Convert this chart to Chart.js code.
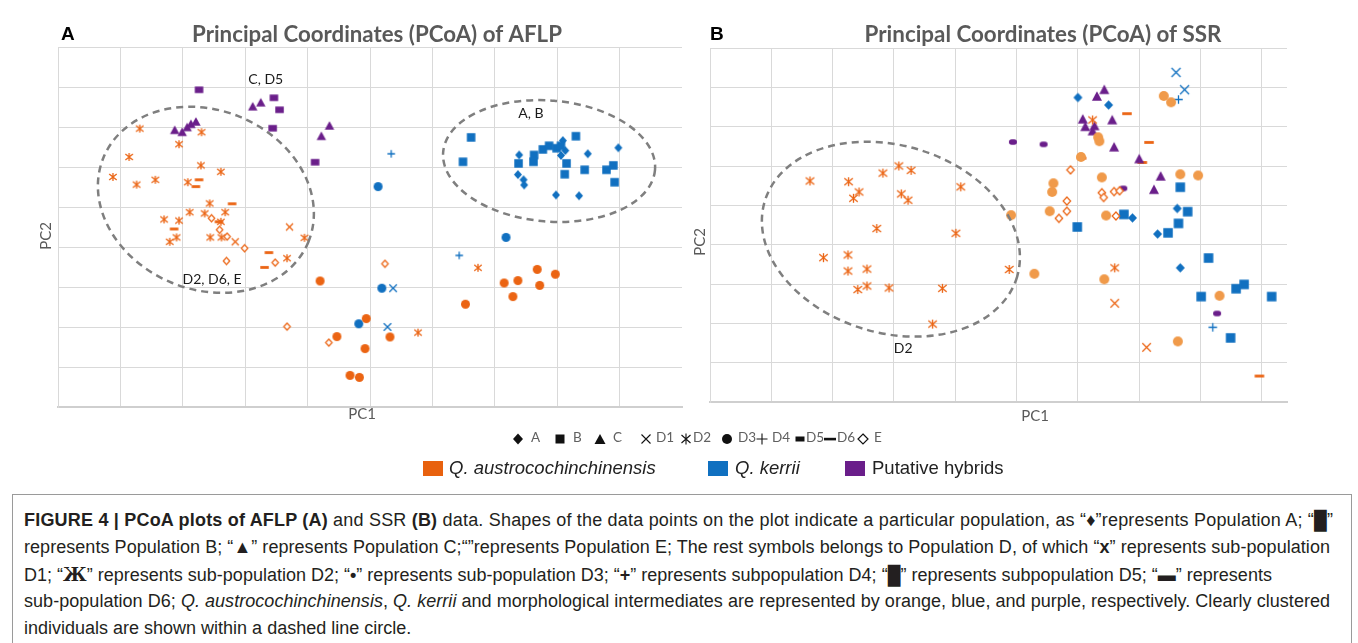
<!DOCTYPE html>
<html><head><meta charset="utf-8">
<script src="https://cdn.jsdelivr.net/npm/chart.js@4.4.1/dist/chart.umd.min.js"></script>
<style>
html,body{margin:0;padding:0;background:#fff;}
#page{position:relative;width:1358px;height:643px;overflow:hidden;font-family:"Liberation Sans",Arial,sans-serif;background:#fff;}
#ca{position:absolute;left:0;top:0;}
#cb{position:absolute;left:690px;top:0;}
.sym{position:absolute;width:12px;height:12px;top:431px;}
.lt{position:absolute;top:428.5px;font:13.5px Lato,sans-serif;color:#606060;line-height:17px;white-space:nowrap;}
.sq{position:absolute;top:461px;width:20px;height:15px;}
.lt2{position:absolute;top:457px;font-size:18.5px;line-height:22px;color:#222;white-space:nowrap;}
#cap{position:absolute;left:12px;top:494px;width:1338px;height:170px;border:1px solid #9a9a9a;}
.cl{position:absolute;left:11px;white-space:nowrap;font-size:18px;line-height:27px;color:#231f20;}
.zh{font-family:"DejaVu Serif",serif;font-weight:bold;}
</style></head>
<body><div id="page">
<canvas id="ca" width="690" height="430"></canvas>
<canvas id="cb" width="668" height="430"></canvas>
<div id="leg1"></div>
<div class="sq" style="left:423px;background:#E8610E"></div><div class="lt2" style="left:449px"><i>Q. austrocochinchinensis</i></div>
<div class="sq" style="left:708px;background:#1070C0"></div><div class="lt2" style="left:735px"><i>Q. kerrii</i></div>
<div class="sq" style="left:845px;background:#6A1E8A"></div><div class="lt2" style="left:872px">Putative hybrids</div>
<div id="cap">
<div class="cl" data-w="1309" style="top:12px"><b>FIGURE 4 | PCoA plots of AFLP (A)</b> and SSR <b>(B)</b> data. Shapes of the data points on the plot indicate a particular population, as “♦”represents Population A; “<b>█</b>”</div>
<div class="cl" data-w="1306" style="top:39px">represents Population B; “<b>▲</b>” represents Population C;“”represents Population E; The rest symbols belongs to Population D, of which “<b>x</b>” represents sub-population</div>
<div class="cl" data-w="1248" style="top:66px">D1; “<span class="zh">Ж</span>” represents sub-population D2; “<b>•</b>” represents sub-population D3; “<b>+</b>” represents subpopulation D4; “<b>█</b>” represents subpopulation D5; “<b>▬</b>” represents</div>
<div class="cl" data-w="1306" style="top:93px">sub-population D6; <i>Q. austrocochinchinensis</i>, <i>Q. kerrii</i> and morphological intermediates are represented by orange, blue, and purple, respectively. Clearly clustered</div>
<div class="cl" style="top:120px">individuals are shown within a dashed line circle.</div>
</div>
</div>
<script>
// ---------------- DATA (PC1, PC2 scores, arbitrary units) ----------------
// AFLP panel
const aflpA_kerrii = [[2.39,2.30],[3.09,2.66],[3.13,2.41],[3.06,2.29],[3.49,2.33],[3.98,2.48],[2.37,1.81],[2.46,1.68],[2.47,1.55],[2.98,1.30],[3.35,1.28]];
const aflpB_kerrii = [[1.62,2.74],[1.49,2.13],[2.38,2.09],[2.62,2.13],[2.63,2.30],[2.77,2.44],[2.87,2.53],[2.99,2.47],[3.06,2.53],[3.15,2.09],[3.12,1.82],[3.30,2.77],[3.44,1.93],[3.79,1.93],[3.90,2.04],[3.92,1.62]];
const aflpC_hybrid = [[-1.88,3.52],[-1.75,3.62],[-3.13,2.93],[-3.01,2.88],[-2.93,3.00],[-2.87,3.08],[-2.79,3.14],[-0.78,2.78],[-0.65,3.04]];
const aflpD1_austro = [[-2.16,0.13],[-1.29,0.50]];
const aflpD1_kerrii = [[0.37,-1.03],[0.28,-2.00]];
const aflpD2_austro = [[-3.69,2.96],[-2.70,2.87],[-3.06,2.57],[-3.86,2.25],[-2.71,2.04],[-2.39,1.88],[-4.12,1.75],[-3.74,1.56],[-3.44,1.68],[-2.92,1.62],[-2.57,1.09],[-2.32,0.87],[-2.89,0.87],[-2.65,0.84],[-3.30,0.69],[-3.06,0.66],[-3.21,0.13],[-3.10,0.24],[-2.39,0.63],[-2.56,0.24],[-2.38,0.24],[-1.05,0.23],[-1.33,-0.28],[1.73,-0.52],[0.77,-2.14]];
const aflpD3_austro = [[-0.80,-0.85],[-0.06,-1.79],[-0.53,-2.24],[-0.08,-2.54],[-0.32,-3.21],[-0.17,-3.26],[0.32,-2.25],[1.53,-1.43],[2.15,-0.90],[2.37,-0.84],[2.68,-0.56],[2.72,-0.96],[2.97,-0.68],[2.29,-1.24]];
const aflpD3_kerrii = [[-0.18,-1.92],[0.19,-1.03],[2.18,0.24],[0.13,1.51]];
const aflpD4_kerrii = [[0.34,2.33],[1.43,-0.21]];
const aflpD5_hybrid = [[-2.74,3.93],[-1.54,3.73],[-1.45,3.43],[-1.56,2.97],[-0.88,2.12]];
const aflpD6_austro = [[-2.74,1.68],[-2.79,1.51],[-2.21,1.08],[-3.14,0.45],[-2.42,0.63],[-1.62,-0.14],[-1.69,-0.51]];
const aflpE_austro = [[-2.54,0.72],[-2.41,0.43],[-2.29,0.26],[-2.01,-0.03],[-2.30,-0.35],[-1.52,-0.39],[-1.33,-1.99],[-0.66,-2.39],[0.24,-0.42]];
// SSR panel
const ssrA_kerrii = [[1.00,3.74],[1.50,3.55],[2.62,0.92],[1.89,0.68],[2.30,0.27],[2.67,-0.59]];
const ssrB_kerrii = [[2.67,1.46],[2.79,0.84],[0.99,0.45],[1.75,0.77],[2.47,0.30],[2.64,0.54],[3.13,-0.34],[3.01,-1.32],[3.58,-1.12],[3.71,-1.01],[4.16,-1.32],[3.49,-2.37]];
const ssrC_hybrid = [[1.31,3.78],[1.43,3.95],[1.08,3.20],[1.12,3.01],[1.27,3.03],[1.24,2.90],[1.56,3.18],[1.59,2.49],[2.00,2.19],[2.35,1.75],[2.24,1.41]];
const ssrD1_austro = [[1.60,-1.49],[2.12,-2.61]];
const ssrD1_kerrii = [[2.60,4.38],[2.74,3.94]];
const ssrD2_austro = [[-3.37,1.62],[-2.74,1.60],[-2.57,1.34],[-2.66,1.18],[-2.18,1.82],[-1.92,2.00],[-1.72,1.89],[-1.88,1.29],[-1.77,1.13],[-0.91,1.47],[-2.28,0.41],[-0.99,0.29],[-3.15,-0.33],[-2.75,-0.26],[-2.75,-0.67],[-2.44,-0.62],[-2.59,-1.14],[-2.44,-1.05],[-2.08,-1.10],[-1.21,-1.11],[-1.37,-2.02],[-0.12,-0.63],[1.24,3.17],[1.60,-0.59]];
const ssrD3_austro = [[-0.09,0.75],[2.40,3.78],[2.52,3.62],[1.33,2.73],[1.35,2.63],[1.05,2.23],[1.39,1.71],[2.67,1.79],[2.96,1.76],[0.60,1.56],[0.58,1.34],[0.54,0.85],[1.46,0.74],[0.29,-0.74],[1.43,-0.88],[3.31,-1.30],[2.63,-2.46]];
const ssrD4_kerrii = [[2.64,3.69],[3.20,-2.10]];
const ssrD5_hybrid = [[-0.06,2.61],[0.44,2.55],[1.74,1.43],[3.27,-1.75]];
const ssrD6_austro = [[1.80,3.33],[2.16,2.60],[1.06,2.20],[2.05,2.09],[3.96,-3.34]];
const ssrE_austro = [[0.88,1.90],[0.82,1.11],[1.39,1.32],[1.42,1.20],[1.59,1.35],[1.68,1.37],[0.82,0.85],[0.69,0.67],[1.62,0.73]];
// grid ticks
const aflpXTicks = [-5,-4,-3,-2,-1,0,1,2,3,4];
const aflpYTicks = [-4,-3,-2,-1,0,1,2,3,4,5];
const ssrXTicks = [-5,-4,-3,-2,-1,0,1,2,3,4];
const ssrYTicks = [-4,-3,-2,-1,0,1,2,3,4,5];
// legend
const populations = ['A','B','C','D1','D2','D3','D4','D5','D6','E'];
const species = ['Q. austrocochinchinensis','Q. kerrii','Putative hybrids'];

// ---------------- styling ----------------
const ORA='#EB6413', ORA2='#F09A4A', BLU='#1170C0', PUR='#6A1E8A';

function marker(type,color,w,h){
  const pad=2, c=document.createElement('canvas');
  c.width=Math.round(w+pad*2); c.height=Math.round(h+pad*2);
  const g=c.getContext('2d'), cx=c.width/2, cy=c.height/2;
  g.fillStyle=color; g.strokeStyle=color; g.lineWidth=1.3;
  g.beginPath();
  switch(type){
    case 'circle': g.arc(cx,cy,w/2,0,Math.PI*2); g.fill(); break;
    case 'square': g.fillRect(cx-w/2,cy-h/2,w,h); break;
    case 'rrect': { const r=h/2; g.moveTo(cx-w/2+r,cy-h/2); g.lineTo(cx+w/2-r,cy-h/2); g.arc(cx+w/2-r,cy,r,-Math.PI/2,Math.PI/2); g.lineTo(cx-w/2+r,cy+h/2); g.arc(cx-w/2+r,cy,r,Math.PI/2,Math.PI*1.5); g.fill(); break; }
    case 'diamond': g.moveTo(cx,cy-h/2); g.lineTo(cx+w/2,cy); g.lineTo(cx,cy+h/2); g.lineTo(cx-w/2,cy); g.closePath(); g.fill(); break;
    case 'odiamond': g.moveTo(cx,cy-h/2); g.lineTo(cx+w/2,cy); g.lineTo(cx,cy+h/2); g.lineTo(cx-w/2,cy); g.closePath(); g.fillStyle='#fff'; g.fill(); g.lineWidth=1.2; g.stroke(); break;
    case 'triangle': g.moveTo(cx,cy-h/2); g.lineTo(cx+w/2,cy+h/2); g.lineTo(cx-w/2,cy+h/2); g.closePath(); g.fill(); break;
    case 'x': g.moveTo(cx-w/2,cy-h/2); g.lineTo(cx+w/2,cy+h/2); g.moveTo(cx+w/2,cy-h/2); g.lineTo(cx-w/2,cy+h/2); g.stroke(); break;
    case 'plus': g.moveTo(cx,cy-h/2); g.lineTo(cx,cy+h/2); g.moveTo(cx-w/2,cy); g.lineTo(cx+w/2,cy); g.stroke(); break;
    case 'ast': g.moveTo(cx-w/2,cy-h/2+1); g.lineTo(cx+w/2,cy+h/2-1); g.moveTo(cx+w/2,cy-h/2+1); g.lineTo(cx-w/2,cy+h/2-1); g.moveTo(cx,cy-h/2); g.lineTo(cx,cy+h/2); g.stroke(); break;
    case 'dash': g.fillRect(cx-w/2,cy-h/2,w,h); break;
  }
  return c;
}
function ds(points, style){
  return {data:points.map(p=>({x:p[0],y:p[1]})), pointStyle:style, pointRadius:5, pointHoverRadius:5, showLine:false};
}
function axis(min,max,ticks,isX){
  return {type:'linear',min,max,
    afterBuildTicks:s=>{s.ticks=ticks.map(v=>({value:v}));},
    ticks:{display:false},
    grid:{color:'#D9D9D9',lineWidth:1,drawTicks:false},
    border:{display:true,color:isX?'#CFCFCF':'#D9D9D9',width:isX?2:1},
    title:{display:false}};
}
const deco={
  id:'deco',
  afterDatasetsDraw(chart,args,o){
    const ctx=chart.ctx, x=chart.scales.x, y=chart.scales.y;
    ctx.save();
    (o.ellipses||[]).forEach(e=>{
      ctx.beginPath(); ctx.setLineDash([7,5]); ctx.lineWidth=2.5; ctx.strokeStyle='#7F7F7F';
      ctx.ellipse(x.getPixelForValue(e.cx),y.getPixelForValue(e.cy),e.a,e.b,e.rot,0,Math.PI*2);
      ctx.stroke();
    });
    ctx.setLineDash([]);
    ctx.fillStyle='#1a1a1a'; ctx.font='14px Lato'; ctx.textAlign='center'; ctx.textBaseline='middle';
    (o.labels||[]).forEach(l=>ctx.fillText(l.text,x.getPixelForValue(l.x),y.getPixelForValue(l.y)));
    ctx.restore();
  },
  afterDraw(chart,args,o){
    const ctx=chart.ctx; ctx.save();
    ctx.textBaseline='middle';
    const t=o.title; let fs=20;
    ctx.font='bold '+fs+'px Lato'; fs=fs*t.width/ctx.measureText(t.text).width;
    ctx.font='bold '+fs.toFixed(2)+'px Lato'; ctx.fillStyle='#595959'; ctx.textAlign='center';
    ctx.fillText(t.text,t.cx,t.cy);
    ctx.font='bold 19px "Liberation Sans"'; ctx.fillStyle='#000'; ctx.textAlign='left';
    ctx.fillText(o.letter.text,o.letter.x,o.letter.y);
    ctx.font='15px Lato'; ctx.fillStyle='#595959'; ctx.textAlign='center';
    ctx.fillText('PC1',o.pc1.x,o.pc1.y);
    ctx.translate(o.pc2.x,o.pc2.y); ctx.rotate(-Math.PI/2); ctx.fillText('PC2',0,0);
    ctx.restore();
  }
};
Chart.defaults.font.family='Lato';

const A={dia:marker('diamond',BLU,8,9),sq:marker('square',BLU,8.5,8.5),tri:marker('triangle',PUR,9.5,8.5),
  xo:marker('x',ORA,7,7),xb:marker('x',BLU,7.5,7.5),ast:marker('ast',ORA,7.5,8),co:marker('circle',ORA,9,9),cb:marker('circle',BLU,9,9),
  pl:marker('plus',BLU,7.5,7.5),d5:marker('square',PUR,8.5,6.5),d6:marker('dash',ORA,8.5,2.8),e:marker('odiamond',ORA,6.5,7)};
const B={dia:marker('diamond',BLU,9,9.5),sq:marker('square',BLU,9.5,9.5),tri:marker('triangle',PUR,10,9.5),
  xo:marker('x',ORA,8.5,8.5),xb:marker('x',BLU,9,9),ast:marker('ast',ORA,8.5,9),co:marker('circle',ORA2,10,10),
  pl:marker('plus',BLU,8.5,8.5),d5:marker('rrect',PUR,8,5.5),d6:marker('dash',ORA,9.5,2.8),e:marker('odiamond',ORA,7.5,8)};

new Chart(document.getElementById('ca'),{
  type:'scatter',
  data:{datasets:[
    ds(aflpD2_austro,A.ast),ds(aflpD6_austro,A.d6),ds(aflpE_austro,A.e),ds(aflpD1_austro,A.xo),ds(aflpD3_austro,A.co),
    ds(aflpD3_kerrii,A.cb),ds(aflpD1_kerrii,A.xb),ds(aflpD4_kerrii,A.pl),
    ds(aflpB_kerrii,A.sq),ds(aflpA_kerrii,A.dia),ds(aflpC_hybrid,A.tri),ds(aflpD5_hybrid,A.d5)]},
  options:{responsive:false,animation:false,devicePixelRatio:1,events:[],
    layout:{padding:{left:58,top:47,right:8,bottom:23}},
    scales:{x:axis(-5,5,aflpXTicks,true),y:axis(-4,5,aflpYTicks,false)},
    plugins:{legend:{display:false},tooltip:{enabled:false},
      deco:{
        ellipses:[{cx:-2.63,cy:1.18,a:110.8,b:89.7,rot:0.39},{cx:2.87,cy:2.15,a:106.3,b:60.5,rot:0.084}],
        labels:[{x:-1.67,y:4.2,text:'C, D5'},{x:2.58,y:3.35,text:'A, B'},{x:-2.53,y:-0.8,text:'D2, D6, E'}],
        title:{text:'Principal Coordinates (PCoA) of AFLP',cx:377,cy:35,width:370},
        letter:{text:'A',x:61,y:35},pc1:{x:362,y:414},pc2:{x:46,y:236}}}},
  plugins:[deco]
});
new Chart(document.getElementById('cb'),{
  type:'scatter',
  data:{datasets:[
    ds(ssrD2_austro,B.ast),ds(ssrD3_austro,B.co),ds(ssrE_austro,B.e),ds(ssrD1_austro,B.xo),
    ds(ssrB_kerrii,B.sq),ds(ssrA_kerrii,B.dia),ds(ssrD1_kerrii,B.xb),ds(ssrD4_kerrii,B.pl),
    ds(ssrC_hybrid,B.tri),ds(ssrD5_hybrid,B.d5),ds(ssrD6_austro,B.d6)]},
  options:{responsive:false,animation:false,devicePixelRatio:1,events:[],
    layout:{padding:{left:20,top:48,right:71,bottom:28}},
    scales:{x:axis(-5,4.41,ssrXTicks,true),y:axis(-4,5,ssrYTicks,false)},
    plugins:{legend:{display:false},tooltip:{enabled:false},
      deco:{
        ellipses:[{cx:-2.05,cy:0.14,a:131.7,b:93.8,rot:0.29}],
        labels:[{x:-1.85,y:-2.65,text:'D2'}],
        title:{text:'Principal Coordinates (PCoA) of SSR',cx:353,cy:35,width:357},
        letter:{text:'B',x:20,y:35},pc1:{x:345,y:416},pc2:{x:10,y:242}}}},
  plugins:[deco]
});

// ---------------- legend row 1 (population symbols) ----------------
const symSvg={
  diamond:'<polygon points="6,0.5 11,6 6,11.5 1,6" fill="#111"/>',
  square:'<rect x="1.5" y="1.5" width="9" height="9" fill="#111"/>',
  triangle:'<polygon points="6,1 11.5,11 0.5,11" fill="#111"/>',
  x:'<path d="M1.5 1.5L10.5 10.5M10.5 1.5L1.5 10.5" stroke="#111" stroke-width="1.1" fill="none"/>',
  ast:'<path d="M1.5 2L10.5 10M10.5 2L1.5 10M6 0.5V11.5" stroke="#111" stroke-width="1.1" fill="none"/>',
  circle:'<circle cx="6" cy="6" r="5" fill="#111"/>',
  plus:'<path d="M6 0.5V11.5M0.5 6H11.5" stroke="#111" stroke-width="1.1" fill="none"/>',
  rect:'<rect x="1.5" y="3.5" width="9" height="5" fill="#111"/>',
  dash:'<rect x="0" y="4.8" width="12" height="2.6" fill="#111"/>',
  odiamond:'<polygon points="6,1 11,6 6,11 1,6" fill="#fff" stroke="#111" stroke-width="1.2"/>'
};
const legSym=['diamond','square','triangle','x','ast','circle','plus','rect','dash','odiamond'];
const legSymX=[518,560,600,646,686,727,762,800,830,863];
const legTxtX=[531,573,613,656,693,738,772,806,837,874];
const leg1=document.getElementById('leg1');
populations.forEach((p,i)=>{
  const s=document.createElement('div'); s.className='sym'; s.style.left=(legSymX[i]-6)+'px';
  s.innerHTML='<svg width="12" height="12" viewBox="0 0 12 12">'+symSvg[legSym[i]]+'</svg>';
  leg1.appendChild(s);
  const t=document.createElement('div'); t.className='lt'; t.style.left=legTxtX[i]+'px'; t.textContent=p;
  leg1.appendChild(t);
});
// caption lines: spread to the reference line widths
document.querySelectorAll('.cl[data-w]').forEach(el=>{
  const target=+el.dataset.w, w=el.getBoundingClientRect().width, n=el.textContent.length;
  if(n>1) el.style.letterSpacing=((target-w)/(n-1)).toFixed(3)+'px';
});
</script>
</body></html>
